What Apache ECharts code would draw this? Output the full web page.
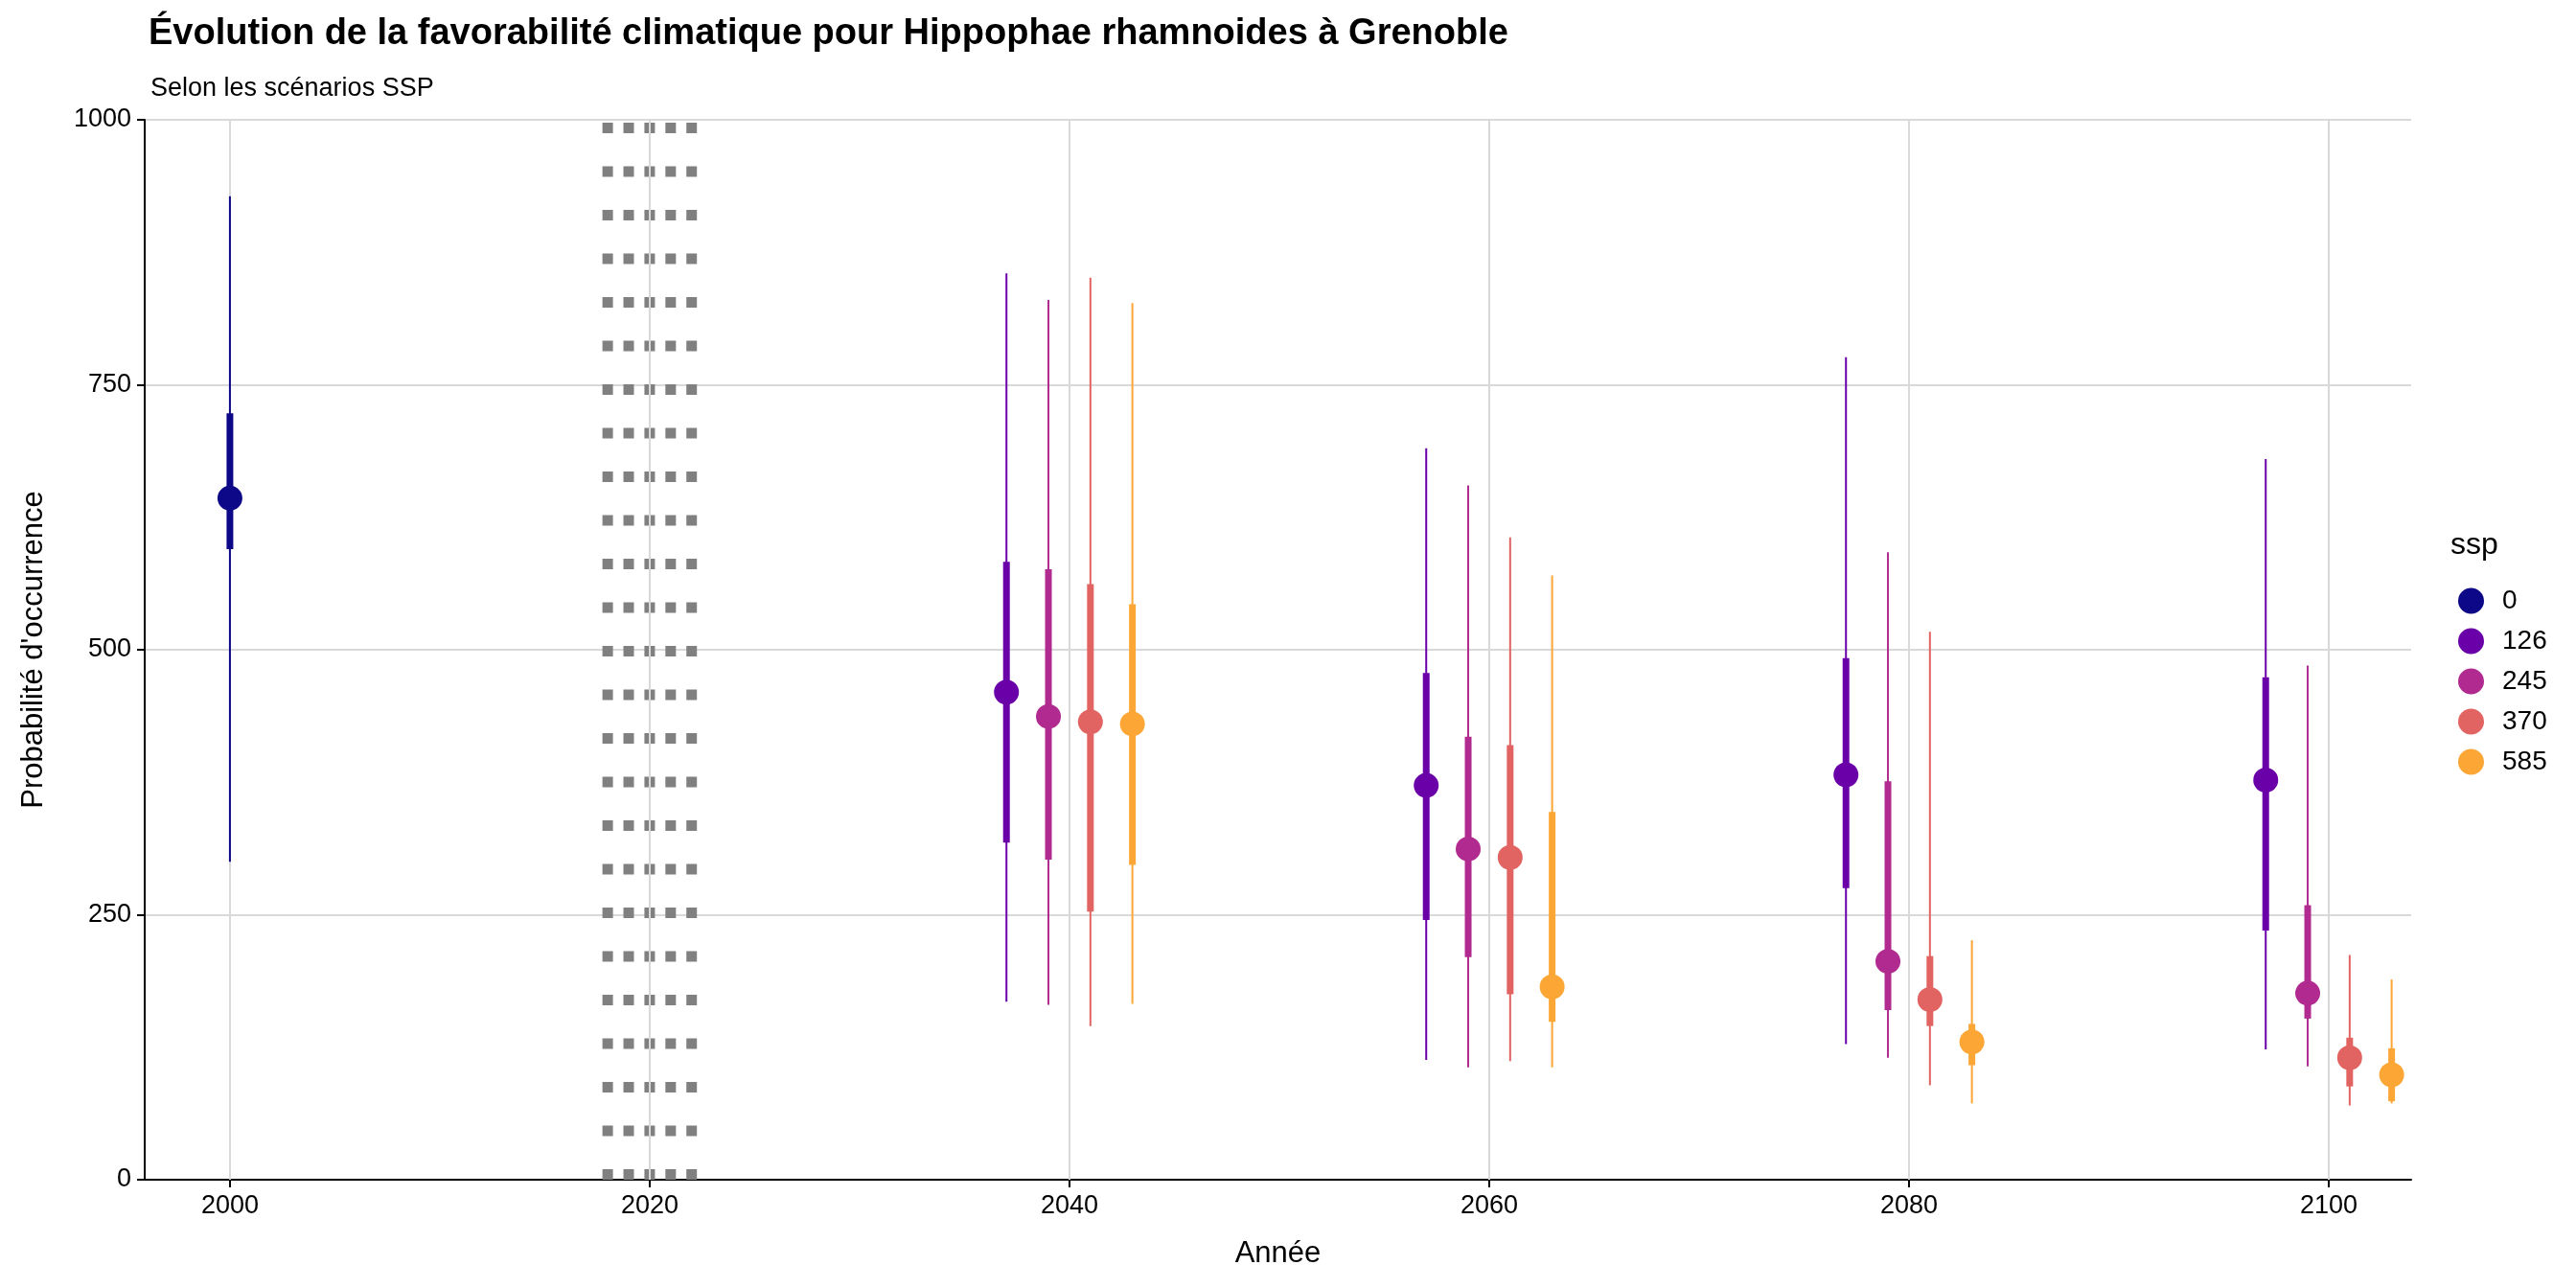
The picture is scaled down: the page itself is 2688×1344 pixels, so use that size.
<!DOCTYPE html>
<html><head><meta charset="utf-8">
<script src="https://cdn.jsdelivr.net/npm/echarts@6/dist/echarts.min.js"></script>
<style>html,body{margin:0;padding:0;background:#fff}#c{width:2688px;height:1344px}</style>
</head><body><div id="c"></div>
<script>
const sspNames = ['0','126','245','370','585'];
const sspColors = ['#0D0887','#6A00A8','#B12A90','#E16462','#FCA636'];
// [year, median, lo95, hi95, lo50, hi50]
const ssp0 = [[2000, 643, 300, 928, 595, 723]];
const ssp126 = [[2037,460,168,855,318,583],[2057,372,113,690,245,478],[2077,382,128,776,275,492],[2097,377,123,680,235,474]];
const ssp245 = [[2039,437,165,830,302,576],[2059,312,106,655,210,418],[2079,206,115,592,160,376],[2099,176,107,485,152,259]];
const ssp370 = [[2041,432,145,851,253,562],[2061,304,112,606,175,410],[2081,170,89,517,145,211],[2101,115,70,212,88,134]];
const ssp585 = [[2043,430,166,827,297,543],[2063,182,106,570,149,347],[2083,130,72,226,108,147],[2103,99,72,189,74,124]];
const allData = [ssp0, ssp126, ssp245, ssp370, ssp585];
const xTicks = [2000,2020,2040,2060,2080,2100];
const bandYears = [2018,2019,2020,2021,2022];

const chart = echarts.init(document.getElementById('c'));
const series = [];
series.push({type:'line', silent:true, symbol:'none', data:[], markLine:{silent:true, symbol:'none', label:{show:false},
  lineStyle:{color:'#d9d9d9', width:2, type:'solid'}, data:xTicks.map(v=>({xAxis:v}))}, z:0});
bandYears.forEach(y=>{
  series.push({type:'line', silent:true, symbol:'none', data:[[y,0],[y,1000]],
    lineStyle:{color:'#808080', width:11, type:[11,34.5], cap:'butt'}, z:1});
});
allData.forEach((d,i)=>{
  series.push({type:'custom', name:sspNames[i], itemStyle:{color:sspColors[i]}, data:d, z:5,
    renderItem:(params, api)=>{
      const x = api.value(0);
      const m = api.coord([x, api.value(1)]);
      const a = api.coord([x, api.value(2)]), b = api.coord([x, api.value(3)]);
      const c = api.coord([x, api.value(4)]), e = api.coord([x, api.value(5)]);
      const col = sspColors[i];
      return {type:'group', children:[
        {type:'line', shape:{x1:a[0],y1:a[1],x2:b[0],y2:b[1]}, style:{stroke:col, lineWidth:2}},
        {type:'line', shape:{x1:c[0],y1:c[1],x2:e[0],y2:e[1]}, style:{stroke:col, lineWidth:7}},
        {type:'circle', shape:{cx:m[0],cy:m[1],r:13}, style:{fill:col}}
      ]};
    }});
});
const txt = {fontFamily:'Liberation Sans, Arial, sans-serif', color:'#000'};
chart.setOption({
  animation:false,
  backgroundColor:'#fff',
  grid:{left:151, right:172, top:125, bottom:113},
  title:[{text:'Évolution de la favorabilité climatique pour Hippophae rhamnoides à Grenoble', left:150, top:12,
    textStyle:Object.assign({fontSize:38, fontWeight:'bold'},txt)},
    {text:'Selon les scénarios SSP', left:152, top:74, textStyle:Object.assign({fontSize:27, fontWeight:'normal'},txt)}],
  legend:{data:sspNames.map((n,i)=>({name:n, icon:'circle', itemStyle:{color:sspColors[i]}})),
    orient:'vertical', left:2560, top:608, itemWidth:27, itemHeight:27, itemGap:14,
    textStyle:Object.assign({fontSize:28, padding:[0,0,0,14]},txt)},
  graphic:[{type:'text', left:2557, top:553, style:{text:'ssp', fontSize:32, fill:'#000', fontFamily:'Liberation Sans, Arial, sans-serif'}}],
  xAxis:{type:'value', min:1995.94, max:2103.93, name:'Année', nameLocation:'middle', nameGap:62,
    nameTextStyle:Object.assign({fontSize:31},txt),
    axisLine:{lineStyle:{color:'#000', width:2}},
    axisTick:{length:8, lineStyle:{color:'#000', width:2}, customValues:xTicks},
    axisLabel:Object.assign({fontSize:27, margin:14, customValues:xTicks, formatter:v=>String(v)},txt),
    splitLine:{show:false}},
  yAxis:{type:'value', min:0, max:1000, interval:250, name:"Probabilité d'occurrence", nameLocation:'middle', nameGap:100,
    nameTextStyle:Object.assign({fontSize:31},txt),
    axisLine:{show:true, lineStyle:{color:'#000', width:2}},
    axisTick:{show:true, length:8, lineStyle:{color:'#000', width:2}},
    axisLabel:Object.assign({fontSize:27, margin:14, formatter:v=>String(v)},txt),
    splitLine:{lineStyle:{color:'#d9d9d9', width:2}}},
  series:series
});
</script></body></html>
